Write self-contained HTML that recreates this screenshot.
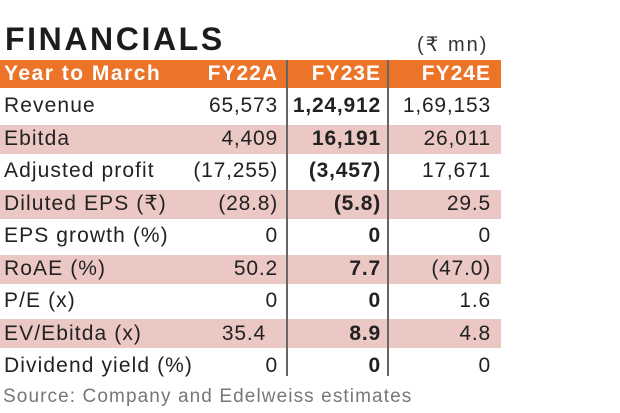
<!DOCTYPE html>
<html><head><meta charset="utf-8"><style>
body{margin:0;width:620px;height:413px;background:#fff;position:relative;overflow:hidden;font-family:"Liberation Sans",sans-serif;color:#222}
.a{position:absolute;white-space:nowrap}
.t{font-size:32px;font-weight:bold;left:5px;top:21px;letter-spacing:2.6px;color:#1c1c1c}
.u{font-size:20px;left:417px;top:32px;color:#333;letter-spacing:2px}
.hd{position:absolute;left:0;top:60px;width:501px;height:28px;background:#ec7428}
.pk{position:absolute;left:0;width:501px;height:29px;background:#ecc8c5}
.r{position:absolute;left:0;width:501px;height:33px;font-size:21px;line-height:33px;letter-spacing:0.8px}
.r span{position:absolute}
.l{left:4px;letter-spacing:1.1px}
.c1{right:223px}.c2{right:120px}.c3{right:10px}
.h{color:#fff;font-weight:bold;font-size:21px;line-height:28px;top:60px;height:28px;letter-spacing:1px}
.h .l{letter-spacing:1.5px}
.b{font-weight:bold}
.v{position:absolute;width:1.5px;background:#666;top:60px;height:316px}
.s{font-size:19px;color:#777;left:3px;top:386px;letter-spacing:1.1px}
</style></head><body>
<div class="a t">FINANCIALS</div>
<div class="a u">(₹ mn)</div>
<div class="hd"></div>
<div class="pk" style="top:125px"></div>
<div class="pk" style="top:190px"></div>
<div class="pk" style="top:255px"></div>
<div class="pk" style="top:319px"></div>
<div class="v" style="left:286px"></div>
<div class="v" style="left:387px"></div>
<div class="r h"><span class="l">Year to March</span><span class="c1">FY22A</span><span class="c2">FY23E</span><span class="c3">FY24E</span></div>
<div class="r" style="top:89px"><span class="l">Revenue</span><span class="c1">65,573</span><span class="c2 b">1,24,912</span><span class="c3">1,69,153</span></div>
<div class="r" style="top:122px"><span class="l">Ebitda</span><span class="c1">4,409</span><span class="c2 b">16,191</span><span class="c3">26,011</span></div>
<div class="r" style="top:154px"><span class="l">Adjusted profit</span><span class="c1">(17,255)</span><span class="c2 b">(3,457)</span><span class="c3">17,671</span></div>
<div class="r" style="top:187px"><span class="l">Diluted EPS (₹)</span><span class="c1">(28.8)</span><span class="c2 b">(5.8)</span><span class="c3">29.5</span></div>
<div class="r" style="top:219px"><span class="l">EPS growth (%)</span><span class="c1">0</span><span class="c2 b">0</span><span class="c3">0</span></div>
<div class="r" style="top:252px"><span class="l">RoAE (%)</span><span class="c1">50.2</span><span class="c2 b">7.7</span><span class="c3">(47.0)</span></div>
<div class="r" style="top:284px"><span class="l">P/E (x)</span><span class="c1">0</span><span class="c2 b">0</span><span class="c3">1.6</span></div>
<div class="r" style="top:317px"><span class="l">EV/Ebitda (x)</span><span class="c1" style="right:235px">35.4</span><span class="c2 b">8.9</span><span class="c3">4.8</span></div>
<div class="r" style="top:349px"><span class="l">Dividend yield (%)</span><span class="c1">0</span><span class="c2 b">0</span><span class="c3">0</span></div>
<div class="a s">Source: Company and Edelweiss estimates</div>
</body></html>
